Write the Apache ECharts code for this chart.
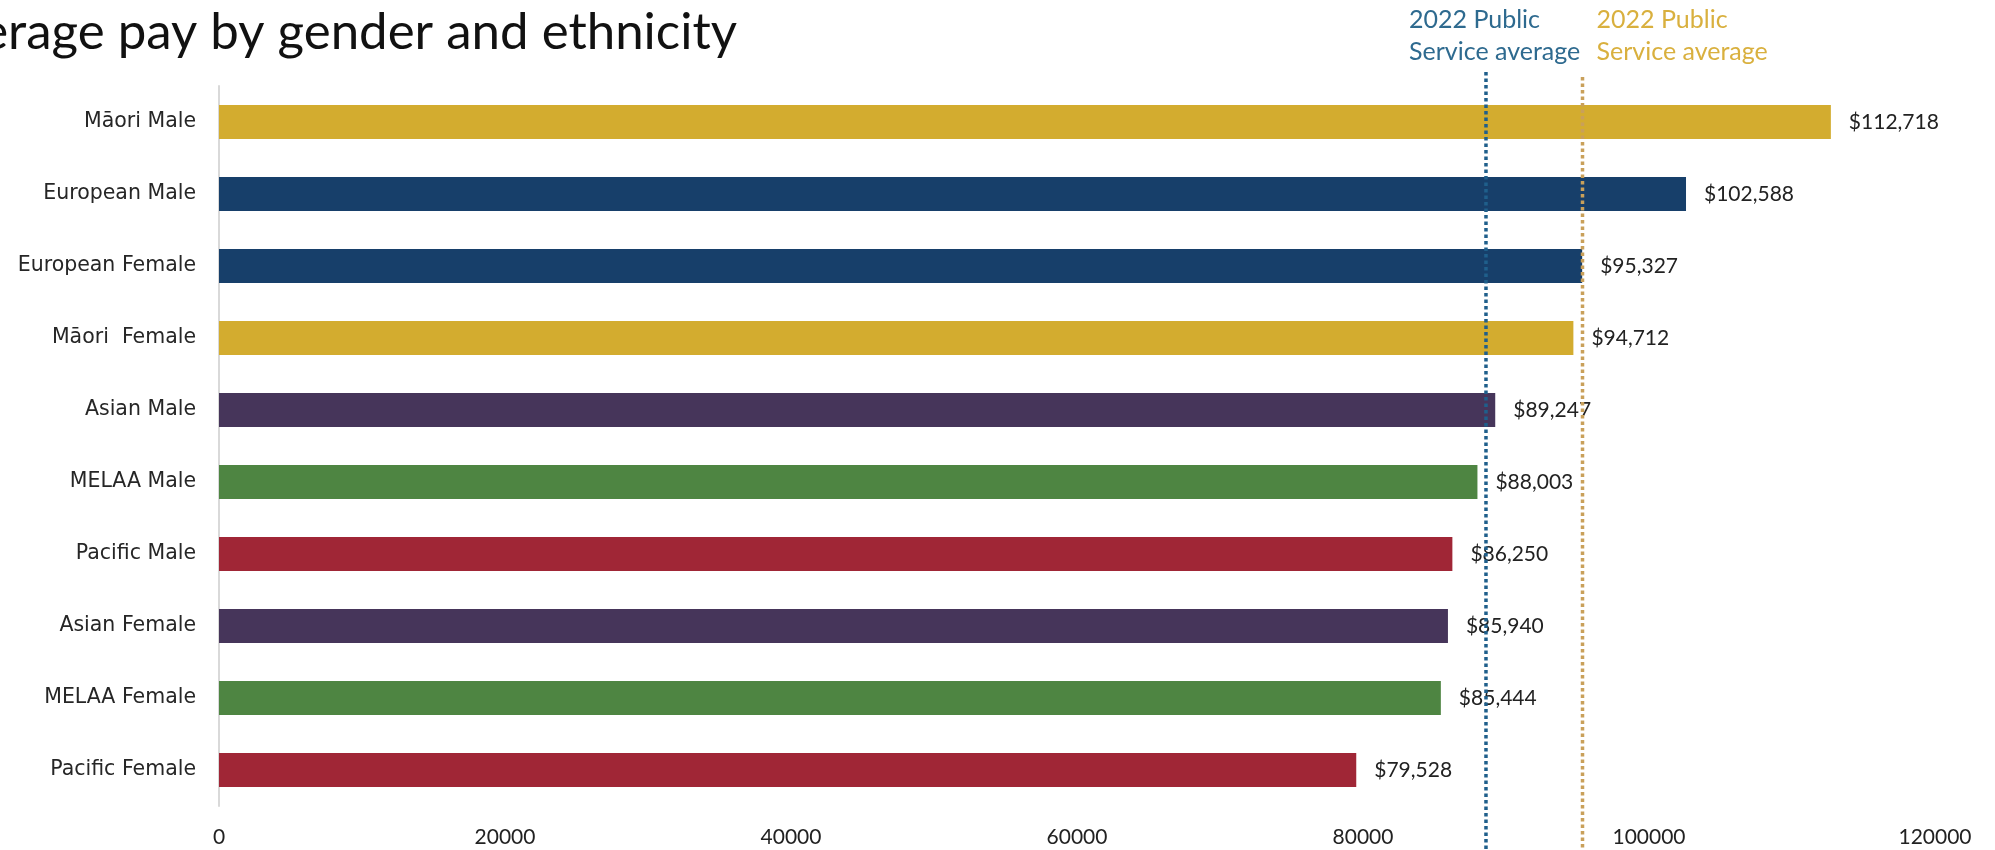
<!DOCTYPE html>
<html>
<head>
<meta charset="utf-8">
<script src="https://cdn.jsdelivr.net/npm/echarts@6/dist/echarts.min.js"></script>
<style>
html,body{margin:0;padding:0;background:#fff;}
#chart{width:1995px;height:850px;}
</style>
</head>
<body>
<div id="chart"></div>
<script>
const categories = ['Māori Male','European Male','European Female','Māori  Female','Asian Male','MELAA Male','Pacific Male','Asian Female','MELAA Female','Pacific Female'];
const values = [112718, 102588, 95327, 94712, 89247, 88003, 86250, 85940, 85444, 79528];
const ethnicity = ['Māori','European','European','Māori','Asian','MELAA','Pacific','Asian','MELAA','Pacific'];
const ethnicityColors = {'Māori':'#D3AC2F','European':'#173F6A','Asian':'#46355A','MELAA':'#4E8542','Pacific':'#A02636'};
const xTicks = [0, 20000, 40000, 60000, 80000, 100000, 120000];
const averageLabels = ['2022 Public\nService average', '2022 Public\nService average'];
const averageValues = [88600, 95350];
const averageLineColors = ['#1F5F8B', '#C9A05A'];
const averageTextColors = ['#2E6A8F', '#D9B03E'];

const chart = echarts.init(document.getElementById('chart'));
const fmt = v => '$' + v.toLocaleString('en-US');

chart.setOption({
  animation: false,
  backgroundColor: '#ffffff',
  grid: {left: 219, right: 60, top: 86, bottom: 44, containLabel: false},
  xAxis: {
    type: 'value', min: xTicks[0], max: xTicks[xTicks.length-1], interval: 20000,
    axisLine: {show: false}, axisTick: {show: false}, splitLine: {show: false},
    axisLabel: {fontFamily: 'Lato', fontSize: 21, color: '#222', margin: 21, formatter: v => String(v)}
  },
  yAxis: {
    type: 'category', data: categories, inverse: true,
    axisLine: {show: true, lineStyle: {color: '#d9d9d9', width: 2}},
    axisTick: {show: false},
    axisLabel: {fontFamily: 'DejaVu Sans', fontSize: 20.5, color: '#262626', margin: 23}
  },
  series: [{
    type: 'bar',
    data: values.map((v, i) => ({value: v, itemStyle: {color: ethnicityColors[ethnicity[i]]}})),
    barWidth: 34,
    label: {show: true, position: 'right', distance: 18, formatter: p => fmt(p.value),
      fontFamily: 'Lato', fontSize: 21, color: '#222'}
  }]
});

const topY = [72, 77];
const textOffsets = [-77, 14];
const graphics = [{
  type: 'text', z: 100,
  style: {text: 'Average pay by gender and ethnicity', x: 737, y: 33, textAlign: 'right', textVerticalAlign: 'middle',
    fontFamily: 'Lato', fontSize: 51, fill: '#111'}
}];
averageValues.forEach((v, i) => {
  const px = chart.convertToPixel({xAxisIndex: 0}, v);
  graphics.push({
    type: 'line', z: 100,
    shape: {x1: px, y1: topY[i], x2: px, y2: 850},
    style: {stroke: averageLineColors[i], lineWidth: 3.5, lineDash: [3.5, 3]}
  });
  graphics.push({
    type: 'text', z: 100,
    style: {text: averageLabels[i], x: px + textOffsets[i], y: 4, textAlign: 'left', textVerticalAlign: 'top',
      fontFamily: 'Lato', fontSize: 25, lineHeight: 32, fill: averageTextColors[i]}
  });
});
chart.setOption({graphic: graphics});
</script>
</body>
</html>
